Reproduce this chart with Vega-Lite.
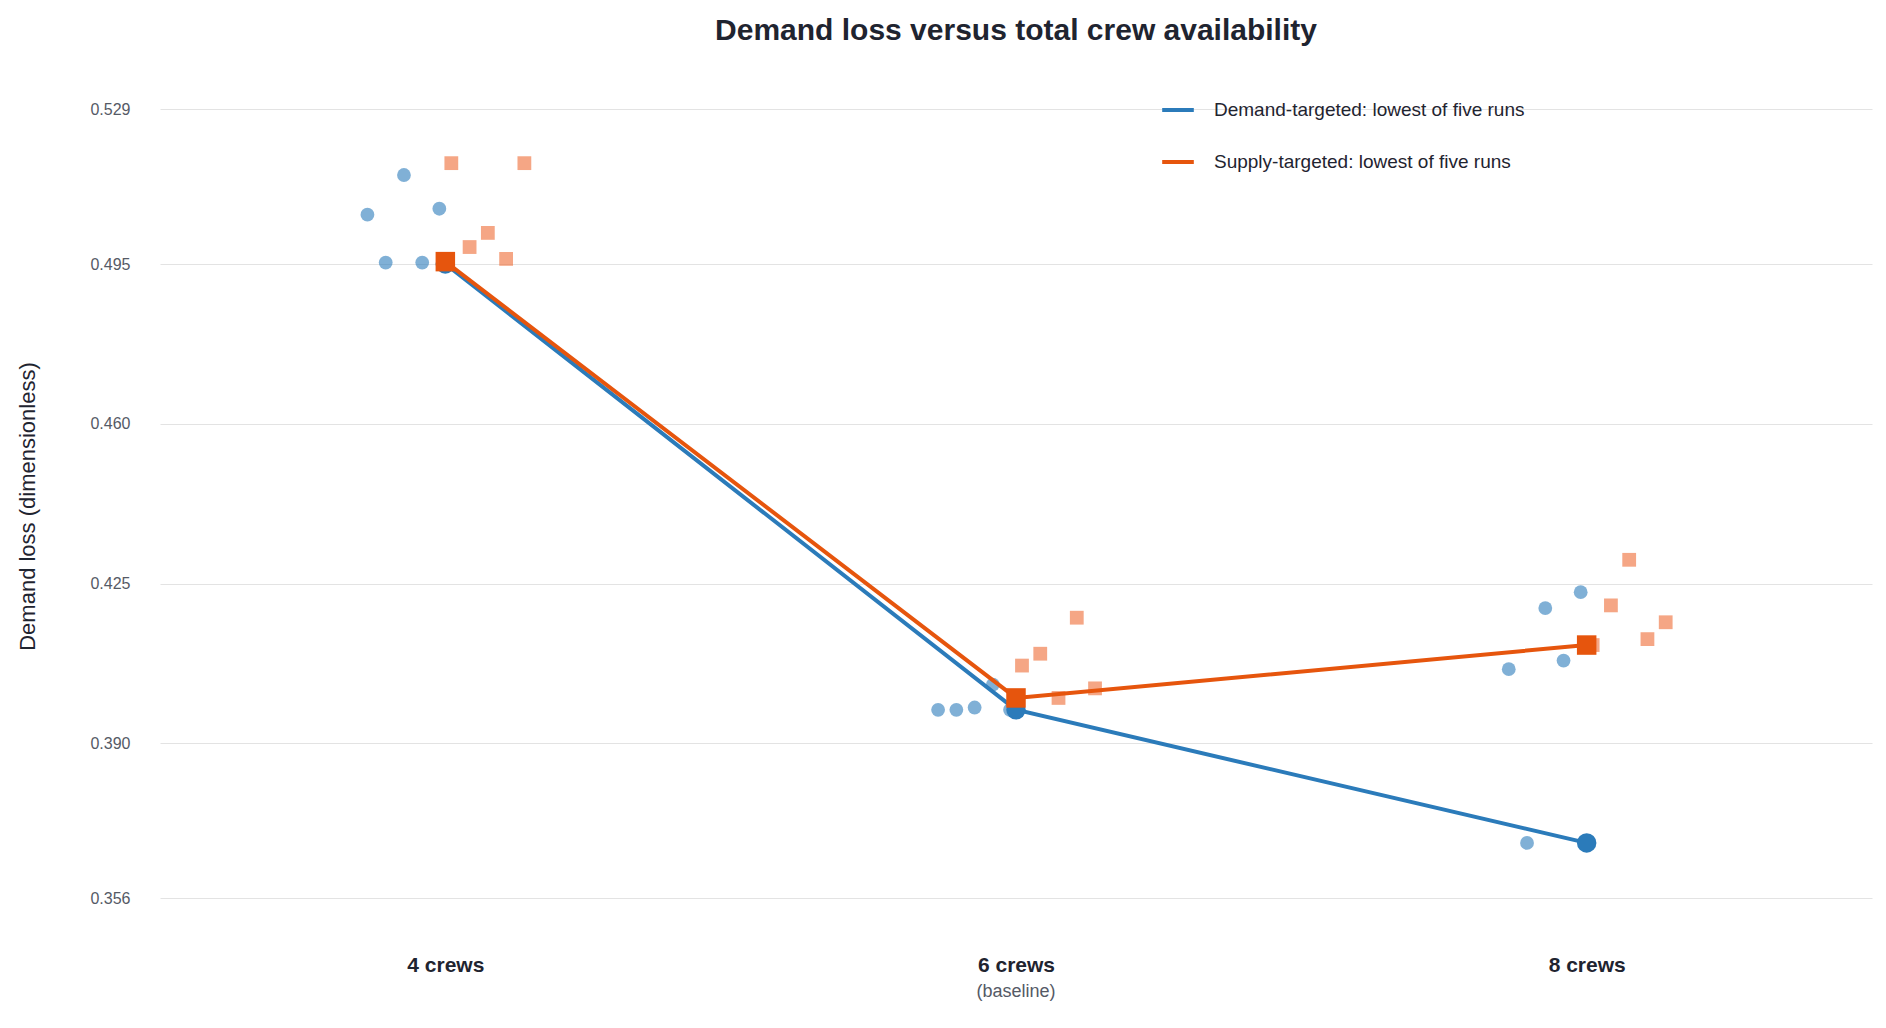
{
  "$schema": "https://vega.github.io/schema/vega-lite/v6.json",
  "width": 1886,
  "height": 1028,
  "autosize": {"type": "fit", "contains": "padding"},
  "padding": {"left": 16, "right": 14, "top": 16, "bottom": 14},
  "title": {"text": "Demand loss versus total crew availability", "fontSize": 30, "font": "Liberation Sans", "fontWeight": "bold", "color": "#1f2430", "offset": 36},
  "datasets": {
    "runs": [
      {"strategy": "Demand-targeted", "pos": 3.727, "loss": 0.5059},
      {"strategy": "Demand-targeted", "pos": 3.791, "loss": 0.4954},
      {"strategy": "Demand-targeted", "pos": 3.855, "loss": 0.5146},
      {"strategy": "Demand-targeted", "pos": 3.919, "loss": 0.4954},
      {"strategy": "Demand-targeted", "pos": 3.979, "loss": 0.5072},
      {"strategy": "Supply-targeted", "pos": 4.021, "loss": 0.5172},
      {"strategy": "Supply-targeted", "pos": 4.085, "loss": 0.4988},
      {"strategy": "Supply-targeted", "pos": 4.149, "loss": 0.5019},
      {"strategy": "Supply-targeted", "pos": 4.213, "loss": 0.4962},
      {"strategy": "Supply-targeted", "pos": 4.277, "loss": 0.5172},
      {"strategy": "Demand-targeted", "pos": 5.727, "loss": 0.3973},
      {"strategy": "Demand-targeted", "pos": 5.791, "loss": 0.3973},
      {"strategy": "Demand-targeted", "pos": 5.855, "loss": 0.3978},
      {"strategy": "Demand-targeted", "pos": 5.919, "loss": 0.4028},
      {"strategy": "Demand-targeted", "pos": 5.979, "loss": 0.3973},
      {"strategy": "Supply-targeted", "pos": 6.021, "loss": 0.4070},
      {"strategy": "Supply-targeted", "pos": 6.085, "loss": 0.4096},
      {"strategy": "Supply-targeted", "pos": 6.149, "loss": 0.3999},
      {"strategy": "Supply-targeted", "pos": 6.213, "loss": 0.4175},
      {"strategy": "Supply-targeted", "pos": 6.277, "loss": 0.4020},
      {"strategy": "Demand-targeted", "pos": 7.727, "loss": 0.4062},
      {"strategy": "Demand-targeted", "pos": 7.791, "loss": 0.3681},
      {"strategy": "Demand-targeted", "pos": 7.855, "loss": 0.4196},
      {"strategy": "Demand-targeted", "pos": 7.919, "loss": 0.4081},
      {"strategy": "Demand-targeted", "pos": 7.979, "loss": 0.4231},
      {"strategy": "Supply-targeted", "pos": 8.021, "loss": 0.4115},
      {"strategy": "Supply-targeted", "pos": 8.085, "loss": 0.4202},
      {"strategy": "Supply-targeted", "pos": 8.149, "loss": 0.4302},
      {"strategy": "Supply-targeted", "pos": 8.213, "loss": 0.4128},
      {"strategy": "Supply-targeted", "pos": 8.277, "loss": 0.4165}
    ],
    "lowest": [
      {"series": "Demand-targeted: lowest of five runs", "crews": 4, "loss": 0.4951},
      {"series": "Demand-targeted: lowest of five runs", "crews": 6, "loss": 0.3973},
      {"series": "Demand-targeted: lowest of five runs", "crews": 8, "loss": 0.3681},
      {"series": "Supply-targeted: lowest of five runs", "crews": 4, "loss": 0.4956},
      {"series": "Supply-targeted: lowest of five runs", "crews": 6, "loss": 0.3999},
      {"series": "Supply-targeted: lowest of five runs", "crews": 8, "loss": 0.4115}
    ],
    "note": [{"crews": 6, "loss": 0.3355, "label": "(baseline)"}]
  },
  "layer": [
    {
      "data": {"name": "runs"},
      "mark": {"type": "point", "filled": true, "opacity": 0.6, "size": 190},
      "encoding": {
        "x": {"field": "pos", "type": "quantitative", "scale": {"domain": [3, 9]},
          "axis": {"values": [4, 6, 8], "labelExpr": "datum.value + ' crews'", "title": null, "grid": false, "domain": false, "ticks": false, "labelFontSize": 21, "labelFontWeight": "bold", "labelColor": "#1f2430", "labelPadding": 24, "labelFont": "Liberation Sans"}},
        "y": {"field": "loss", "type": "quantitative", "scale": {"domain": [0.349, 0.535], "nice": false, "zero": false},
          "axis": {"values": [0.356, 0.39, 0.425, 0.46, 0.495, 0.529], "format": ".3f", "title": "Demand loss (dimensionless)", "titleFontSize": 22, "titleFontWeight": "normal", "titleColor": "#1f2430", "titlePadding": 50, "titleFont": "Liberation Sans", "domain": false, "ticks": false, "labelFontSize": 16, "labelColor": "#555a66", "labelPadding": 30, "gridColor": "#e3e3e3", "labelFont": "Liberation Sans"}},
        "shape": {"field": "strategy", "type": "nominal", "scale": {"domain": ["Demand-targeted", "Supply-targeted"], "range": ["circle", "square"]}, "legend": null},
        "color": {"field": "strategy", "type": "nominal", "scale": {"domain": ["Demand-targeted", "Supply-targeted"], "range": ["#2b7bba", "#ee6a33"]}, "legend": null}
      }
    },
    {
      "data": {"name": "lowest"},
      "mark": {"type": "line", "strokeWidth": 4},
      "encoding": {
        "x": {"field": "crews", "type": "quantitative"},
        "y": {"field": "loss", "type": "quantitative"},
        "stroke": {"field": "series", "type": "nominal", "scale": {"domain": ["Demand-targeted: lowest of five runs", "Supply-targeted: lowest of five runs"], "range": ["#2b7bba", "#e6550d"]},
          "legend": {"orient": "none", "legendX": 1000, "legendY": 10, "title": null, "labelFontSize": 19, "labelLimit": 0, "labelOffset": 18, "labelFont": "Liberation Sans", "labelColor": "#1f2430", "symbolType": "stroke", "symbolSize": 1000, "symbolStrokeWidth": 4, "rowPadding": 24}}
      }
    },
    {
      "data": {"name": "lowest"},
      "mark": {"type": "point", "filled": true, "opacity": 1, "size": 380},
      "encoding": {
        "x": {"field": "crews", "type": "quantitative"},
        "y": {"field": "loss", "type": "quantitative"},
        "shape": {"field": "series", "type": "nominal", "scale": {"domain": ["Demand-targeted: lowest of five runs", "Supply-targeted: lowest of five runs"], "range": ["circle", "square"]}, "legend": null},
        "fill": {"field": "series", "type": "nominal", "scale": {"domain": ["Demand-targeted: lowest of five runs", "Supply-targeted: lowest of five runs"], "range": ["#2b7bba", "#e6550d"]}, "legend": null}
      }
    },
    {
      "data": {"name": "note"},
      "mark": {"type": "text", "fontSize": 18, "color": "#555a66", "font": "Liberation Sans", "clip": false},
      "encoding": {
        "x": {"field": "crews", "type": "quantitative"},
        "y": {"field": "loss", "type": "quantitative"},
        "text": {"field": "label"}
      }
    }
  ],
  "resolve": {"scale": {"shape": "independent", "color": "independent"}},
  "config": {"view": {"stroke": null}}
}
